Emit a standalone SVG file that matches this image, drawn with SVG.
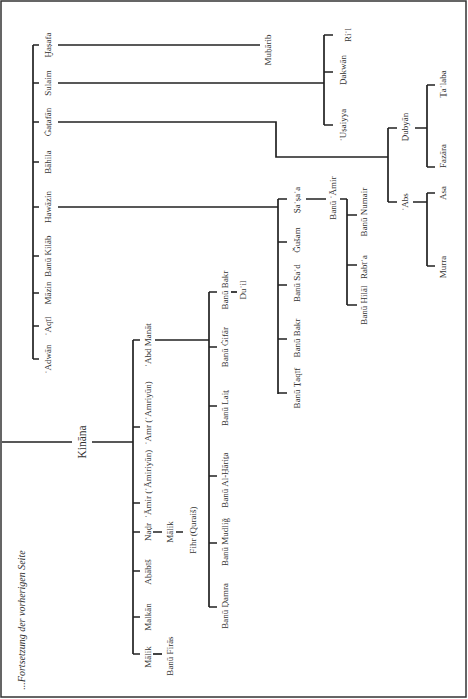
<svg xmlns="http://www.w3.org/2000/svg" width="468" height="699" viewBox="0 0 468 699">
<style>
.c{fill:none;stroke:#222;stroke-width:1.7}
text{font-family:"Liberation Serif","Times New Roman",serif;font-size:9px;fill:#333;text-anchor:middle;dominant-baseline:central}
.big{font-size:11.5px}
.it{font-style:italic;font-size:10px}
</style>
<rect x="1" y="1" width="465" height="696" fill="#fff" stroke="#333" stroke-width="1.5"/>
<text class="it" transform="translate(21,620) rotate(-90)">...Fortsetzung der vorherigen Seite</text>
<g id="connectors" class="c">
<path d="M33,45V359M33,45H39M33,83H39M33,122H39M33,162H39M33,207H39M33,256H39M33,293H39M33,326H39M33,359H39"/>
<path d="M58,45H260"/>
<path d="M58,83H324M324,35V125M324,35H333M324,72H333M324,125H333"/>
<path d="M58,122H276V157H388M388,128V202M388,128H397M388,202H397"/>
<path d="M415,128H427M427,85V167M427,85H435M427,167H435"/>
<path d="M413,202H427M427,193V266M427,193H435M427,266H435"/>
<path d="M58,207H278M278,199V394M278,199H287M278,242H287M278,285H287M278,339H287M278,393H287"/>
<path d="M306,199H326M340,199H347M347,199V305M347,215H357M347,265H357M347,305H357"/>
<path d="M2,442H72M92,442H133M133,340V654M133,340H140M133,427H140M133,503H140M133,532H140M133,571H140M133,617H140M133,654H140"/>
<path d="M153,532H162M176,532H183"/>
<path d="M153,654H162"/>
<path d="M155,340H209M209,292V607M209,292H217M209,347H217M209,406H217M209,476H217M209,543H217M209,607H217"/>
<path d="M231,292H237"/>
</g>
<g id="hasafa"><text transform="translate(48,45) rotate(-90)">Ḫaṣafa</text></g>
<g id="sulaim"><text transform="translate(48,83) rotate(-90)">Sulaim</text></g>
<g id="gatafan"><text transform="translate(48,122) rotate(-90)">Ġaṭafān</text></g>
<g id="bahila"><text transform="translate(48,162) rotate(-90)">Bāhila</text></g>
<g id="hawazin"><text transform="translate(48,207) rotate(-90)">Hawāzin</text></g>
<g id="kilab"><text transform="translate(48,256) rotate(-90)">Banū Kilāb</text></g>
<g id="mazin"><text transform="translate(48,293) rotate(-90)">Māzin</text></g>
<g id="aqil"><text transform="translate(48,326) rotate(-90)">ʿAqīl</text></g>
<g id="adwan"><text transform="translate(48,359) rotate(-90)">ʿAdwān</text></g>
<g id="muharib"><text transform="translate(268,50) rotate(-90)">Muḥārib</text></g>
<g id="ril"><text transform="translate(348,35) rotate(-90)">Riʿl</text></g>
<g id="dakwan"><text transform="translate(343,70) rotate(-90)">Ḏakwān</text></g>
<g id="usaiyya"><text transform="translate(343,125) rotate(-90)">ʿUṣaiyya</text></g>
<g id="dubyan"><text transform="translate(405,127) rotate(-90)">Ḏubyān</text></g>
<g id="abs"><text transform="translate(405,202) rotate(-90)">ʿAbs</text></g>
<g id="talaba"><text transform="translate(443,84) rotate(-90)">Ṯaʿlaba</text></g>
<g id="fazara"><text transform="translate(443,156) rotate(-90)">Fazāra</text></g>
<g id="asa"><text transform="translate(443,193) rotate(-90)">Asa</text></g>
<g id="murra"><text transform="translate(443,267) rotate(-90)">Murra</text></g>
<g id="sasaa"><text transform="translate(297,200) rotate(-90)">Ṣaʿṣaʿa</text></g>
<g id="gusam"><text transform="translate(297,240) rotate(-90)">Ǧušam</text></g>
<g id="sad"><text transform="translate(297,283) rotate(-90)">Banū Saʿd</text></g>
<g id="bakr1"><text transform="translate(297,338) rotate(-90)">Banū Bakr</text></g>
<g id="taqif"><text transform="translate(297,388) rotate(-90)">Banū Ṯaqīf</text></g>
<g id="amir1"><text transform="translate(333,198) rotate(-90)">Banū ʿĀmir</text></g>
<g id="numair"><text transform="translate(364,212) rotate(-90)">Banū Numair</text></g>
<g id="rabia"><text transform="translate(364,267) rotate(-90)">Rabīʿa</text></g>
<g id="hilal"><text transform="translate(364,305) rotate(-90)">Banū Hilāl</text></g>
<g id="kinana"><text class="big" transform="translate(82,442) rotate(-90)">Kināna</text></g>
<g id="abdmanat"><text transform="translate(148,345) rotate(-90)">ʿAbd Manāt</text></g>
<g id="amr"><text transform="translate(148,413) rotate(-90)">ʿAmr (ʿAmriyūn)</text></g>
<g id="amir2"><text transform="translate(148,484) rotate(-90)">ʿĀmir (ʿĀmiriyūn)</text></g>
<g id="nadr"><text transform="translate(148,532) rotate(-90)">Naḍr</text></g>
<g id="ahabis"><text transform="translate(148,572) rotate(-90)">Aḥābīš</text></g>
<g id="malkan"><text transform="translate(148,617) rotate(-90)">Malkān</text></g>
<g id="malik1"><text transform="translate(148,657) rotate(-90)">Mālik</text></g>
<g id="firas"><text transform="translate(170,656) rotate(-90)">Banū Firās</text></g>
<g id="malik2"><text transform="translate(170,532) rotate(-90)">Mālik</text></g>
<g id="fihr"><text transform="translate(193,530) rotate(-90)">Fihr (Quraiš)</text></g>
<g id="bakr2"><text transform="translate(225,290) rotate(-90)">Banū Bakr</text></g>
<g id="duil"><text transform="translate(243,290) rotate(-90)">Duʾil</text></g>
<g id="gifar"><text transform="translate(225,347) rotate(-90)">Banū Ġifār</text></g>
<g id="lait"><text transform="translate(225,408) rotate(-90)">Banū Laiṯ</text></g>
<g id="harita"><text transform="translate(225,480) rotate(-90)">Banū Al-Ḥāriṯa</text></g>
<g id="mudlig"><text transform="translate(225,542) rotate(-90)">Banū Mudliǧ</text></g>
<g id="damra"><text transform="translate(225,606) rotate(-90)">Banū Ḍamra</text></g>
</svg>
